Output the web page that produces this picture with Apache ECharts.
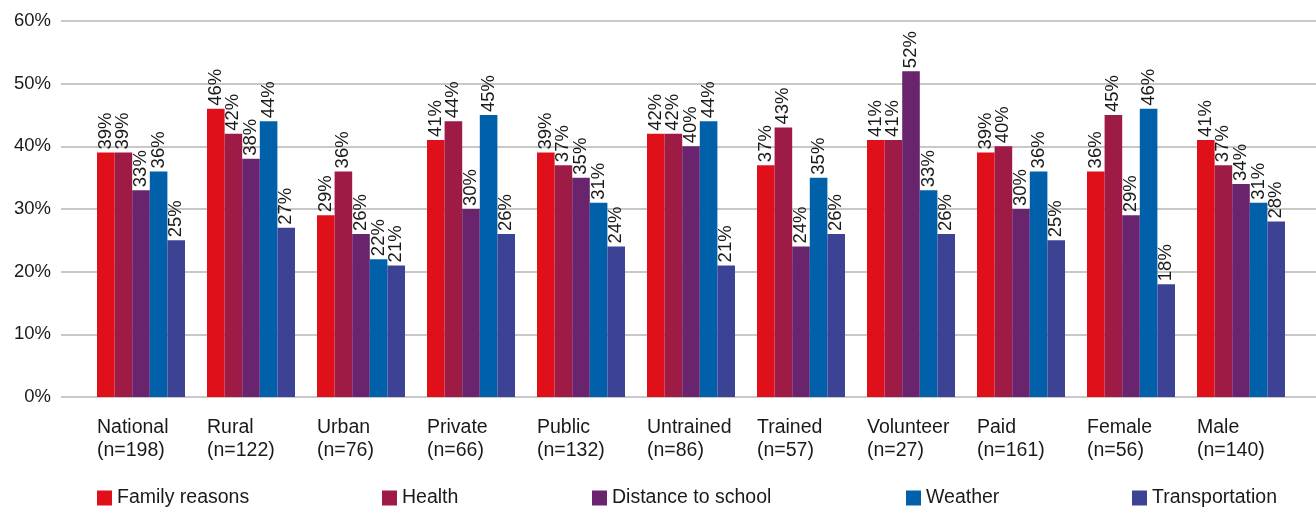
<!DOCTYPE html>
<html>
<head>
<meta charset="utf-8">
<script src="https://cdn.jsdelivr.net/npm/echarts@6/dist/echarts.min.js"></script>
<style>
  html, body { margin: 0; padding: 0; background: #fff; }
  #chart { width: 1316px; height: 508px; }
</style>
</head>
<body>
<div id="chart"></div>
<script>
// Reasons for absence, by group (share of respondents, %)
const categories = ['National', 'Rural', 'Urban', 'Private', 'Public', 'Untrained', 'Trained', 'Volunteer', 'Paid', 'Female', 'Male'];
const sampleSizes = [198, 122, 76, 66, 132, 86, 57, 27, 161, 56, 140];

const familyReasons     = [39, 46, 29, 41, 39, 42, 37, 41, 39, 36, 41];
const health            = [39, 42, 36, 44, 37, 42, 43, 41, 40, 45, 37];
const distanceToSchool  = [33, 38, 26, 30, 35, 40, 24, 52, 30, 29, 34];
const weather           = [36, 44, 22, 45, 31, 44, 35, 33, 36, 46, 31];
const transportation    = [25, 27, 21, 26, 24, 21, 26, 26, 25, 18, 28];

const yTicks = [0, 10, 20, 30, 40, 50, 60];

const seriesDefs = [
  { name: 'Family reasons', data: familyReasons, color: '#E0101A', legendLeft: 97 },
  { name: 'Health', data: health, color: '#9E1B46', legendLeft: 382 },
  { name: 'Distance to school', data: distanceToSchool, color: '#6A246E', legendLeft: 592 },
  { name: 'Weather', data: weather, color: '#0060AA', legendLeft: 906 },
  { name: 'Transportation', data: transportation, color: '#3C4394', legendLeft: 1132 }
];

const FONT = '"Liberation Sans", Arial, sans-serif';
const TEXT = '#1a1a1a';

const chart = echarts.init(document.getElementById('chart'), null, { renderer: 'canvas' });

const option = {
  animation: false,
  backgroundColor: '#ffffff',
  textStyle: { fontFamily: FONT },
  grid: [
    // bars
    { left: 86, width: 1210, top: 21, height: 376, containLabel: false },
    // full-width gridlines and tick labels
    { left: 61, right: 0, top: 21, height: 376, containLabel: false }
  ],
  legend: seriesDefs.map(s => ({
    data: [s.name],
    left: s.legendLeft,
    top: 488,
    padding: 0,
    itemWidth: 15,
    itemHeight: 15,
    itemGap: 0,
    icon: 'rect',
    selectedMode: false,
    textStyle: { fontFamily: FONT, fontSize: 19.5, color: TEXT }
  })),
  xAxis: [
    {
      type: 'category',
      gridIndex: 0,
      data: categories,
      axisLine: { show: false },
      axisTick: { show: false },
      axisLabel: {
        margin: 19,
        interval: 0,
        align: 'center',
        formatter: (v, i) => '{a|' + v + '}\n{a|(n=' + sampleSizes[i] + ')}',
        rich: {
          a: { width: 88, align: 'left', fontFamily: FONT, fontSize: 19.5, color: TEXT, lineHeight: 23 }
        }
      }
    },
    { type: 'value', gridIndex: 1, show: false, min: 0, max: 1 }
  ],
  yAxis: [
    { type: 'value', gridIndex: 0, min: 0, max: 60, interval: 10, show: false },
    {
      type: 'value',
      gridIndex: 1,
      min: yTicks[0],
      max: yTicks[yTicks.length - 1],
      interval: 10,
      axisLine: { show: false },
      axisTick: { show: false },
      axisLabel: {
        margin: 10,
        fontFamily: FONT,
        fontSize: 18.5,
        color: TEXT,
        formatter: v => v + '%'
      },
      splitLine: { show: true, lineStyle: { color: '#c8c8c8', width: 2 } }
    }
  ],
  series: seriesDefs.map(s => ({
    name: s.name,
    type: 'bar',
    xAxisIndex: 0,
    yAxisIndex: 0,
    data: s.data,
    barGap: '0%',
    barCategoryGap: '20%',
    itemStyle: { color: s.color },
    label: {
      show: true,
      position: 'top',
      rotate: 90,
      align: 'left',
      verticalAlign: 'middle',
      distance: 3,
      fontFamily: FONT,
      fontSize: 18.5,
      color: TEXT,
      formatter: p => p.value + '%'
    }
  }))
};

chart.setOption(option);
</script>
</body>
</html>
